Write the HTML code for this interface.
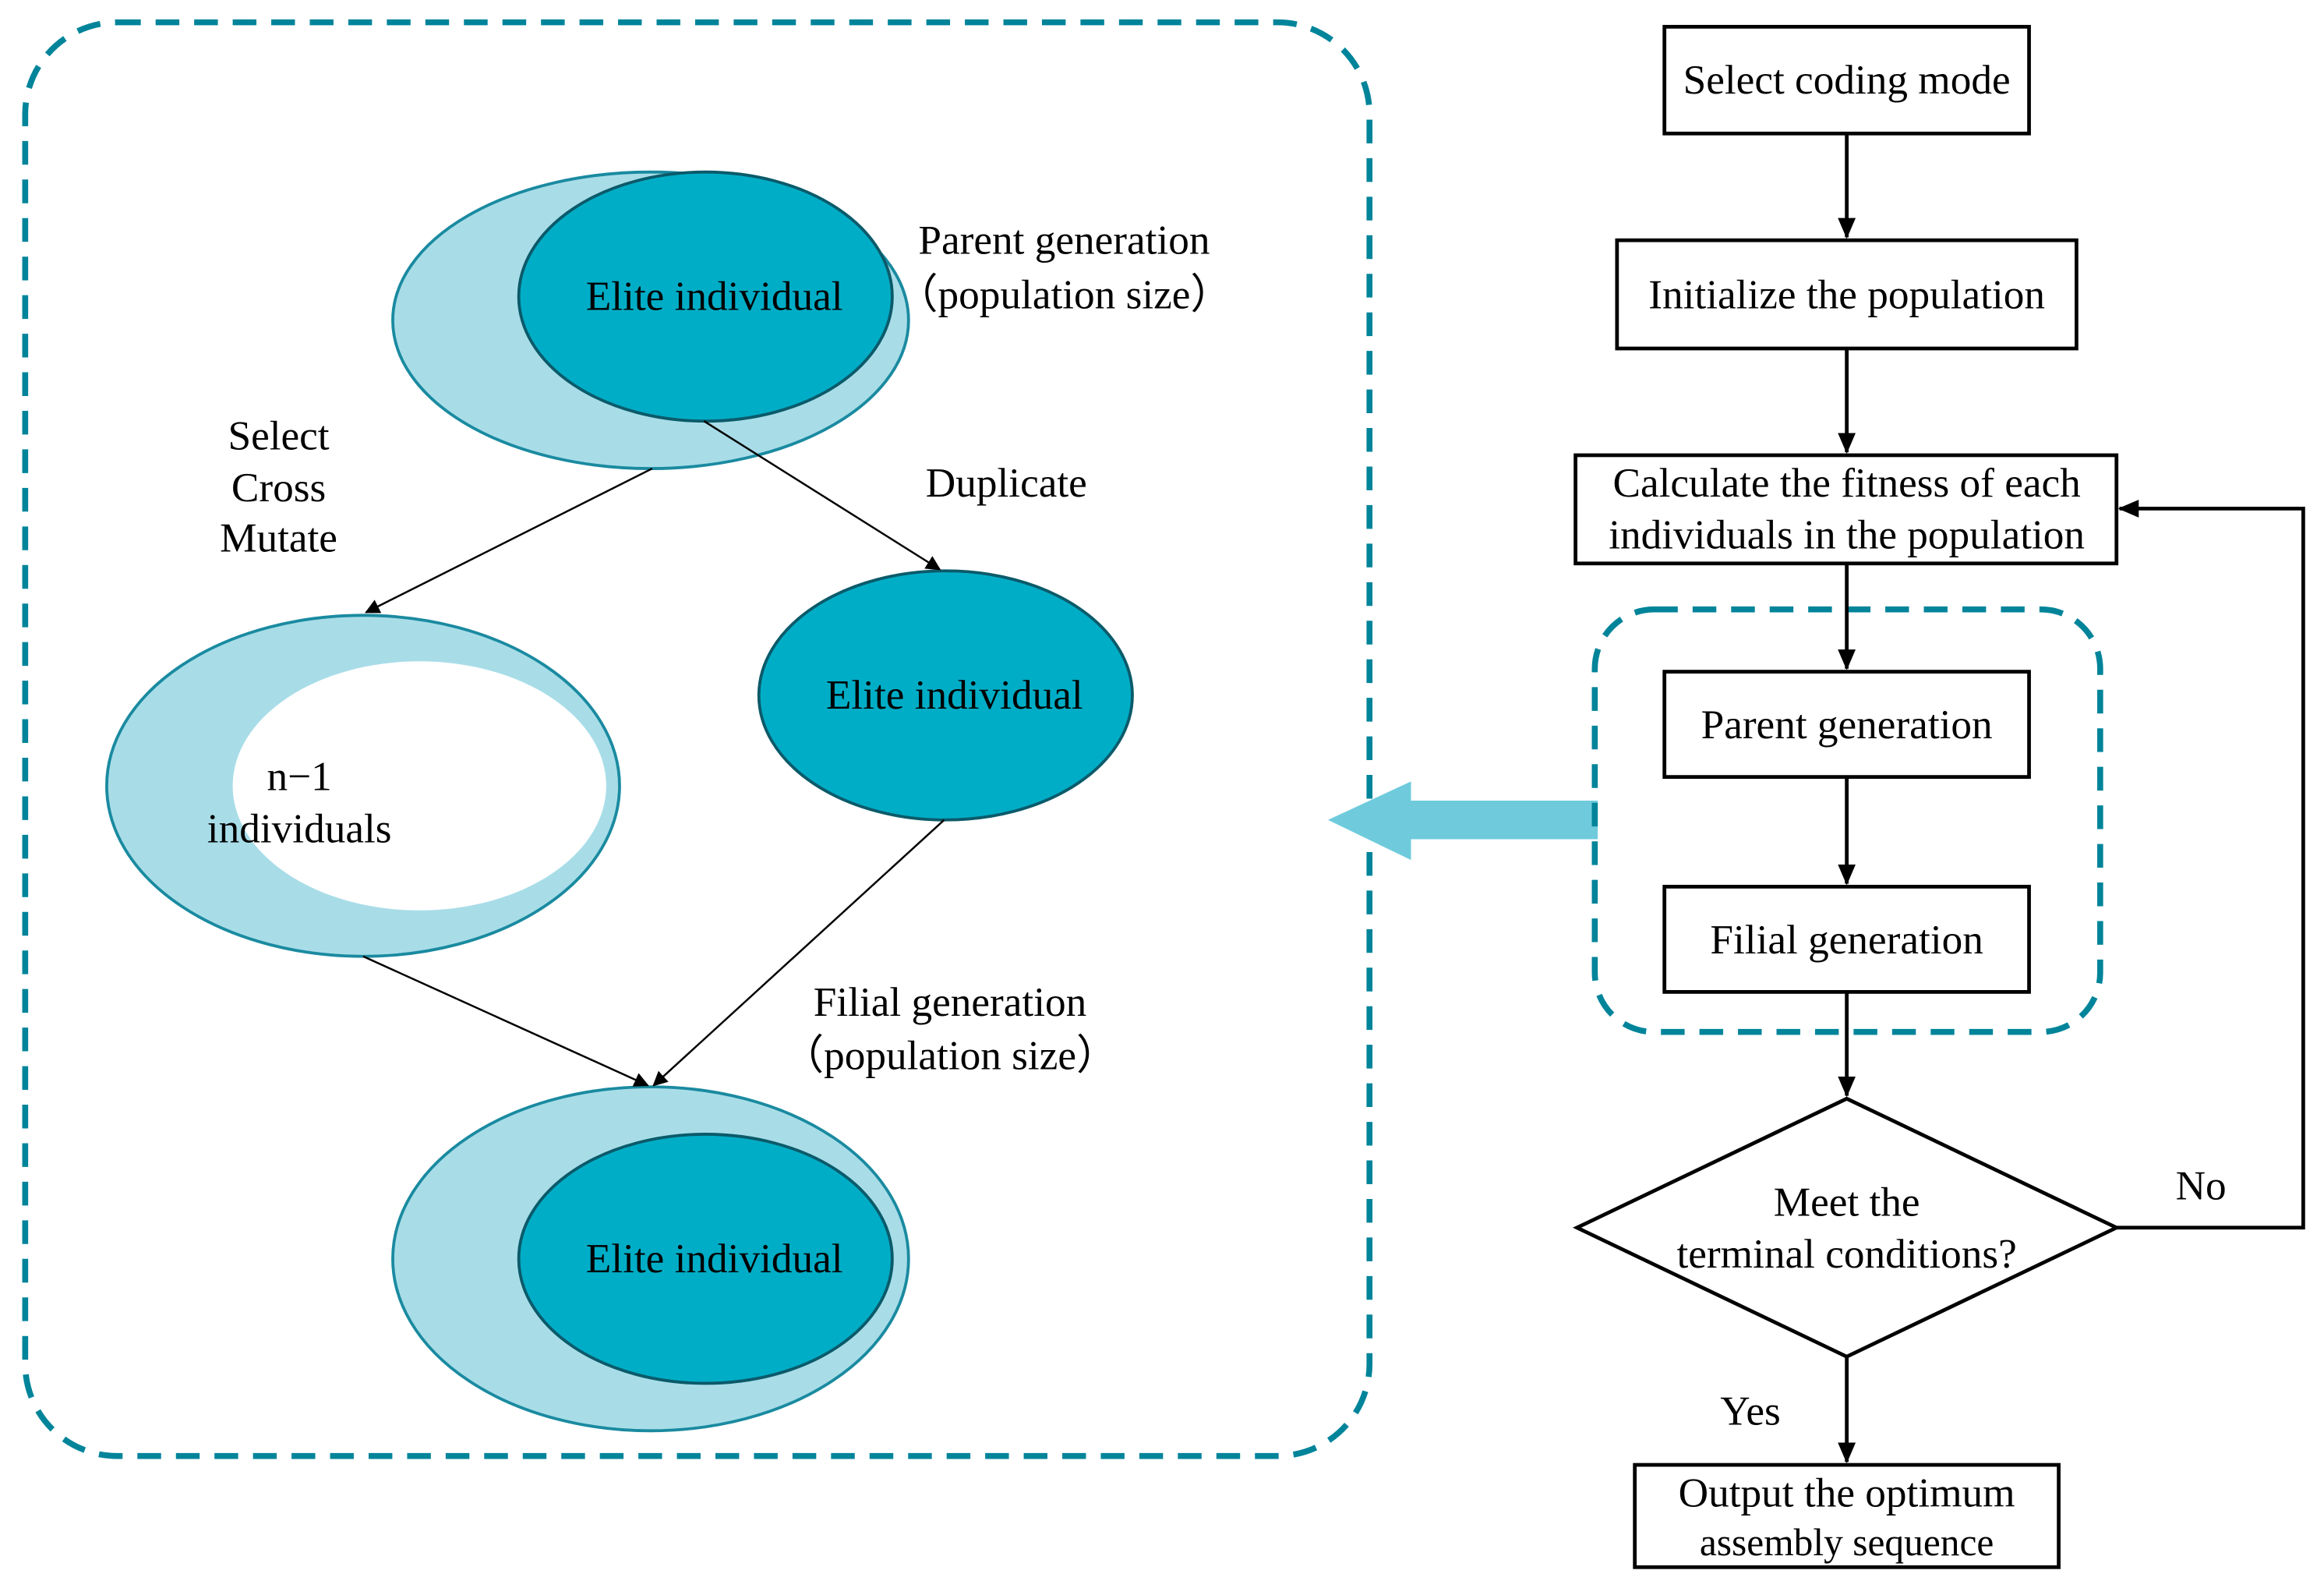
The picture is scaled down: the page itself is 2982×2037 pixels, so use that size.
<!DOCTYPE html>
<html><head><meta charset="utf-8"><style>
html,body{margin:0;padding:0;background:#fff}
svg{display:block}
text{font-family:"Liberation Serif",serif;font-size:28px;fill:#000;text-anchor:middle}
</style></head><body>
<svg width="2982" height="2037" viewBox="0 0 1568 1071" xmlns="http://www.w3.org/2000/svg">
<defs>
<marker id="a" markerWidth="10" markerHeight="10" refX="9" refY="5" orient="auto" markerUnits="userSpaceOnUse"><path d="M0,0 L10,5 L0,10 z" fill="#000"/></marker>
<marker id="b" markerWidth="14" markerHeight="12" refX="13" refY="6" orient="auto" markerUnits="userSpaceOnUse"><path d="M0,0 L14,6 L0,12 z" fill="#000"/></marker>
</defs>
<rect x="17" y="15" width="907" height="967" rx="62" fill="none" stroke="#00849a" stroke-width="4" stroke-dasharray="16,10"/>
<ellipse cx="439" cy="216" rx="174" ry="100" fill="#a8dde8" stroke="#1a8aa0" stroke-width="2"/>
<ellipse cx="476" cy="200" rx="126" ry="84" fill="#00adc6" stroke="#0b5a6a" stroke-width="2"/>
<text x="482" y="209">Elite individual</text>
<text x="718" y="171">Parent generation</text>
<text x="718" y="208">（population size）</text>
<text x="188" y="303">Select</text>
<text x="188" y="338">Cross</text>
<text x="188" y="372">Mutate</text>
<text x="679" y="335">Duplicate</text>
<ellipse cx="245" cy="530" rx="173" ry="115" fill="#a8dde8" stroke="#1a8aa0" stroke-width="2"/>
<ellipse cx="283" cy="530" rx="126" ry="84" fill="#fff"/>
<text x="202" y="533">n−1</text>
<text x="202" y="568">individuals</text>
<ellipse cx="638" cy="469" rx="126" ry="84" fill="#00adc6" stroke="#0b5a6a" stroke-width="2"/>
<text x="644" y="478">Elite individual</text>
<text x="641" y="685">Filial generation</text>
<text x="641" y="721">（population size）</text>
<ellipse cx="439" cy="849" rx="174" ry="116" fill="#a8dde8" stroke="#1a8aa0" stroke-width="2"/>
<ellipse cx="476" cy="849" rx="126" ry="84" fill="#00adc6" stroke="#0b5a6a" stroke-width="2"/>
<text x="482" y="858">Elite individual</text>
<g stroke="#000" stroke-width="1.3" fill="none">
<line x1="440" y1="316" x2="247" y2="413" marker-end="url(#a)"/>
<line x1="475" y1="284" x2="634" y2="384" marker-end="url(#a)"/>
<line x1="245" y1="645" x2="437" y2="732" marker-end="url(#a)"/>
<line x1="637" y1="553" x2="441" y2="732" marker-end="url(#a)"/>
</g>
<path d="M1078,540 L952,540 L952,527 L896,553 L952,580 L952,566 L1078,566 z" fill="#6fcbdc"/>
<g fill="#fff" stroke="#000" stroke-width="2.5">
<rect x="1123" y="18" width="246" height="72"/>
<rect x="1091" y="162" width="310" height="73"/>
<rect x="1063" y="307" width="365" height="73"/>
<rect x="1123" y="453" width="246" height="71"/>
<rect x="1123" y="598" width="246" height="71"/>
<polygon points="1246,741 1428,828 1246,915 1064,828"/>
<rect x="1103" y="988" width="286" height="69"/>
</g>
<rect x="1076" y="411" width="341" height="285" rx="40" fill="none" stroke="#00849a" stroke-width="4" stroke-dasharray="16,10"/>
<g stroke="#000" stroke-width="2.5" fill="none">
<line x1="1246" y1="90" x2="1246" y2="160" marker-end="url(#b)"/>
<line x1="1246" y1="235" x2="1246" y2="305" marker-end="url(#b)"/>
<line x1="1246" y1="380" x2="1246" y2="451" marker-end="url(#b)"/>
<line x1="1246" y1="524" x2="1246" y2="596" marker-end="url(#b)"/>
<line x1="1246" y1="669" x2="1246" y2="739" marker-end="url(#b)"/>
<line x1="1246" y1="915" x2="1246" y2="986" marker-end="url(#b)"/>
<polyline points="1428,828 1554,828 1554,343 1430,343" marker-end="url(#b)"/>
</g>
<text x="1246" y="63">Select coding mode</text>
<text x="1246" y="208">Initialize the population</text>
<text x="1246" y="335">Calculate the fitness of each</text>
<text x="1246" y="370">individuals in the population</text>
<text x="1246" y="498">Parent generation</text>
<text x="1246" y="643">Filial generation</text>
<text x="1246" y="820">Meet the</text>
<text x="1246" y="855">terminal conditions?</text>
<text x="1246" y="1016">Output the optimum</text>
<text x="1246" y="1049" style="font-size:26px">assembly sequence</text>
<text x="1485" y="809">No</text>
<text x="1181" y="961">Yes</text>
</svg>
</body></html>
